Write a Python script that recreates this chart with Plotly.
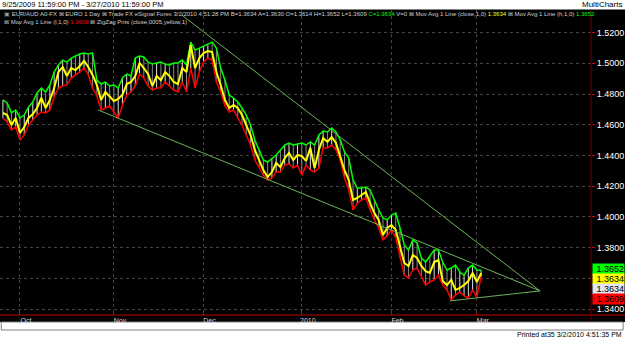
import plotly.graph_objects as go
import pandas as pd

# ---------------- data ----------------
dates = list(pd.bdate_range("2009-09-25", "2010-03-02"))

high = [1.4761, 1.4742, 1.4677, 1.4696, 1.4644, 1.4663, 1.4715, 1.4748, 1.4807, 1.4839,
        1.4813, 1.4859, 1.4943, 1.4989, 1.5021, 1.5008, 1.5034, 1.5047, 1.5060, 1.5067,
        1.5060, 1.5067, 1.4891, 1.4865, 1.4878, 1.4852, 1.4859, 1.4839, 1.4904, 1.4930,
        1.4917, 1.5034, 1.5047, 1.5041, 1.5008, 1.4995, 1.5002, 1.5008, 1.4995, 1.4989,
        1.5002, 1.5002, 1.5021, 1.4989, 1.5138, 1.5086, 1.5099, 1.5112, 1.5125, 1.5138,
        1.5099, 1.4969, 1.4891, 1.4794, 1.4774, 1.4748, 1.4709, 1.4663, 1.4598, 1.4501,
        1.4436, 1.4370, 1.4357, 1.4383, 1.4403, 1.4436, 1.4468, 1.4481, 1.4468, 1.4475,
        1.4481, 1.4468, 1.4488, 1.4468, 1.4533, 1.4559, 1.4553, 1.4579, 1.4553, 1.4501,
        1.4423, 1.4383, 1.4240, 1.4188, 1.4188, 1.4194, 1.4175, 1.4110, 1.4045, 1.3993,
        1.3980, 1.4012, 1.4025, 1.3928, 1.3817, 1.3784, 1.3850, 1.3830, 1.3732, 1.3706,
        1.3745, 1.3784, 1.3784, 1.3706, 1.3654, 1.3667, 1.3686, 1.3641, 1.3621, 1.3667,
        1.3686, 1.3654, 1.3652]

low = [1.4644, 1.4618, 1.4566, 1.4585, 1.4501, 1.4533, 1.4598, 1.4631, 1.4663, 1.4683,
       1.4677, 1.4696, 1.4781, 1.4839, 1.4852, 1.4859, 1.4904, 1.4924, 1.4943, 1.4969,
       1.4924, 1.4839, 1.4787, 1.4696, 1.4709, 1.4722, 1.4683, 1.4644, 1.4729, 1.4794,
       1.4813, 1.4852, 1.4930, 1.4904, 1.4852, 1.4826, 1.4839, 1.4839, 1.4878, 1.4852,
       1.4826, 1.4813, 1.4878, 1.4813, 1.4969, 1.4839, 1.4943, 1.5008, 1.5034, 1.5021,
       1.4878, 1.4813, 1.4722, 1.4683, 1.4696, 1.4644, 1.4598, 1.4533, 1.4468, 1.4370,
       1.4318, 1.4272, 1.4240, 1.4253, 1.4292, 1.4292, 1.4337, 1.4344, 1.4318, 1.4337,
       1.4272, 1.4337, 1.4305, 1.4292, 1.4318, 1.4449, 1.4449, 1.4468, 1.4436, 1.4370,
       1.4253, 1.4175, 1.4045, 1.4090, 1.4110, 1.4123, 1.4045, 1.3980, 1.3928, 1.3850,
       1.3876, 1.3915, 1.3863, 1.3732, 1.3621, 1.3602, 1.3654, 1.3667, 1.3615, 1.3556,
       1.3576, 1.3589, 1.3621, 1.3556, 1.3524, 1.3459, 1.3491, 1.3511, 1.3485, 1.3472,
       1.3524, 1.3478, 1.3609]

close = [1.4677, 1.4663, 1.4598, 1.4644, 1.4546, 1.4585, 1.4644, 1.4670, 1.4709, 1.4774,
         1.4709, 1.4761, 1.4839, 1.4943, 1.4976, 1.4917, 1.4969, 1.4956, 1.4982, 1.5015,
         1.4976, 1.4924, 1.4859, 1.4761, 1.4813, 1.4787, 1.4755, 1.4768, 1.4794, 1.4865,
         1.4878, 1.4917, 1.5002, 1.4969, 1.4930, 1.4852, 1.4917, 1.4891, 1.4943, 1.4917,
         1.4878, 1.4865, 1.4969, 1.4943, 1.5119, 1.4969, 1.5034, 1.5067, 1.5080, 1.5073,
         1.4943, 1.4859, 1.4761, 1.4709, 1.4729, 1.4709, 1.4663, 1.4598, 1.4533, 1.4436,
         1.4370, 1.4305, 1.4259, 1.4292, 1.4351, 1.4324, 1.4383, 1.4416, 1.4370, 1.4403,
         1.4396, 1.4364, 1.4449, 1.4318, 1.4436, 1.4514, 1.4488, 1.4520, 1.4481, 1.4390,
         1.4305, 1.4240, 1.4110, 1.4123, 1.4142, 1.4162, 1.4090, 1.4025, 1.3980, 1.3882,
         1.3928, 1.3947, 1.3915, 1.3797, 1.3700, 1.3680, 1.3752, 1.3732, 1.3680, 1.3647,
         1.3635, 1.3706, 1.3719, 1.3582, 1.3556, 1.3589, 1.3524, 1.3537, 1.3556, 1.3582,
         1.3635, 1.3576, 1.3634]

ytick_vals = [1.34, 1.36, 1.38, 1.40, 1.42, 1.44, 1.46, 1.48, 1.50, 1.52]
hidden_ticks = [1.36]  # label covered by the price boxes
month_labels = {10: "Oct", 11: "Nov", 12: "Dec", 1: "2010", 2: "Feb", 3: "Mar"}

# hand-drawn trendlines (bar index, price)
trend_upper_x = [41.9, 125.8]
trend_upper_y = [1.5314, 1.3518]
trend_lower_x = [22.3, 125.8]
trend_lower_y = [1.4696, 1.3518]
trend_base_x = [104.7, 125.8]
trend_base_y = [1.3453, 1.3518]

# ---------------- figure ----------------
W, H = 625, 338
def py(p):
    return (H - p) / H

FONT = "Liberation Sans, Arial, sans-serif"
idx = list(range(len(dates)))

tickvals, ticktext = [], []
for i, d in enumerate(dates):
    if i > 0 and d.month != dates[i - 1].month and d.month in month_labels:
        tickvals.append(i)
        ticktext.append(month_labels[d.month])

up_x, up_y, dn_x, dn_y = [], [], [], []
for i in idx:
    rising = i == 0 or close[i] >= close[i - 1]
    if rising:
        up_x += [i, i, None]; up_y += [low[i], high[i], None]
    else:
        dn_x += [i, i, None]; dn_y += [low[i], high[i], None]

fig = go.Figure()
fig.add_trace(go.Scatter(x=dn_x, y=dn_y, mode="lines", line=dict(color="#8a8a8a", width=1), hoverinfo="skip"))
fig.add_trace(go.Scatter(x=up_x, y=up_y, mode="lines", line=dict(color="#e0e0e0", width=1), hoverinfo="skip"))
fig.add_trace(go.Scatter(x=idx, y=low, mode="lines", line=dict(color="#ff0000", width=1.5)))
fig.add_trace(go.Scatter(x=idx, y=high, mode="lines", line=dict(color="#00ff00", width=1.5)))
fig.add_trace(go.Scatter(x=idx, y=close, mode="lines", line=dict(color="#ffff00", width=2)))
for tx, ty in [(trend_upper_x, trend_upper_y), (trend_lower_x, trend_lower_y), (trend_base_x, trend_base_y)]:
    fig.add_trace(go.Scatter(x=tx, y=ty, mode="lines", line=dict(color="#6db35a", width=1)))

xr = 591 / W
fig.update_layout(
    width=W, height=H, margin=dict(l=0, r=0, t=0, b=0),
    paper_bgcolor="white", plot_bgcolor="black", showlegend=False,
    xaxis=dict(domain=[0, xr], range=[-0.68, 137.73], tickvals=tickvals, ticktext=ticktext,
               showgrid=True, gridcolor="#444444", griddash="dot", gridwidth=1,
               ticks="inside", ticklen=2, tickcolor="#c00000",
               tickfont=dict(size=7, color="#d8d8d8", family=FONT), ticklabelshift=6,
               ticklabelstandoff=0,
               zeroline=False, showline=False),
    yaxis=dict(domain=[py(315), py(10)], range=[1.3361, 1.5347], side="right",
               tickvals=ytick_vals,
               ticktext=["" if v in hidden_ticks else f"{v:.4f}" for v in ytick_vals],
               showgrid=True, gridcolor="#444444", griddash="dot", gridwidth=1,
               ticks="outside", ticklen=3, tickcolor="#c00000",
               tickfont=dict(size=9, color="white", family=FONT),
               zeroline=False, showline=False),
)

shapes = [
    dict(type="rect", xref="paper", yref="paper", x0=0, x1=1, y0=py(322), y1=py(9.5),
         fillcolor="black", line=dict(width=0), layer="below"),
    dict(type="rect", xref="paper", yref="paper", x0=0.002, x1=0.997, y0=py(330), y1=py(322),
         fillcolor="white", line=dict(color="#808080", width=1), layer="below"),
    dict(type="line", xref="paper", yref="paper", x0=0, x1=1, y0=py(315), y1=py(315),
         line=dict(color="#c00000", width=1)),
    dict(type="line", xref="paper", yref="paper", x0=xr, x1=xr, y0=py(322), y1=py(10),
         line=dict(color="#6a0000", width=1)),
]
fig.update_layout(shapes=shapes)

G = "#d0d0d0"
def c(t, col):
    return f"<span style='color:{col}'>{t}</span>"

H_last, L_last, C_last = high[-1], low[-1], close[-1]
row1 = (c("▣", "#a0a0a0") + " EUR/AUD A0-FX " + "⊠ EURO 1 Day ⊠ Trade FX eSignal Forex 3/2/2010 4:51:28 PM "
        + f"B={C_last:.4f} A=1.3630 O=1.3614 H={H_last:.4f} L={L_last:.4f} "
        + c(f"C={C_last:.4f}", "#00ff00") + " V=0 ⊠ Mov Avg 1 Line (close,1,0) "
        + c(f"{C_last:.4f}", "#ffff00") + " ⊠ Mov Avg 1 Line (h,1,0) " + c(f"{H_last:.4f}", "#00ff00"))
row2 = ("⊠ Mov Avg 1 Line (l,1,0) " + c(f"{L_last:.4f}", "#ff0000")
        + " ⊠ ZigZag Pnts (close,0005,yellow,1)")

ann = [
    dict(text="9/25/2009 11:59:00 PM - 3/27/2010 11:59:00 PM", x=0, y=py(5), xanchor="left", yanchor="middle",
         font=dict(size=7.5, color="black", family=FONT)),
    dict(text="MultiCharts", x=0.999, y=py(5), xanchor="right", yanchor="middle",
         font=dict(size=8, color="black", family=FONT)),
    dict(text="Printed at35 3/2/2010 4:51:35 PM", x=0.998, y=py(334), xanchor="right", yanchor="middle",
         font=dict(size=7, color="black", family=FONT)),
    dict(text=row1, x=2 / W, y=py(14), xanchor="left", yanchor="middle",
         font=dict(size=6, color=G, family=FONT)),
    dict(text=row2, x=2 / W, y=py(21.5), xanchor="left", yanchor="middle",
         font=dict(size=6, color=G, family=FONT)),
]
boxes = [(H_last, "#00ff00", 268.75), (C_last, "#ffff00", 278.5), (C_last, "#e4e4f4", 288.75), (L_last, "#ff0000", 299)]
for val, col, yc in boxes:
    ann.append(dict(text=f"{val:.4f}", x=xr + 1 / W, y=py(yc), xanchor="left", yanchor="middle",
                    width=31, height=9.5, align="right", bgcolor=col, borderpad=0,
                    font=dict(size=9, color="black", family=FONT)))
for a in ann:
    a.setdefault("xref", "paper"); a.setdefault("yref", "paper"); a["showarrow"] = False
fig.update_layout(annotations=ann)

fig.write_html("out.html")
